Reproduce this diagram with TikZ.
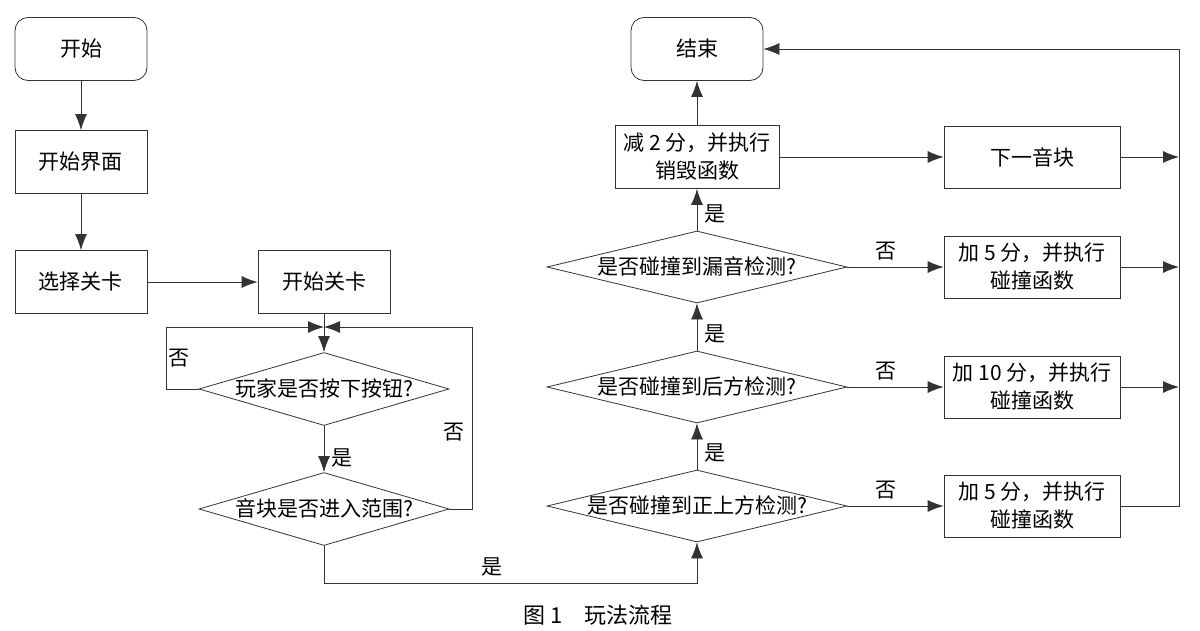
\documentclass[tikz,border=0pt]{standalone}
\usepackage{fontspec}
\setmainfont{Noto Sans CJK SC}
\usepackage{tikz}
\usetikzlibrary{shapes.geometric}
\usetikzlibrary{arrows.meta}
\pgfdeclarelayer{lines_layer}
\pgfdeclarelayer{boxes}
\pgfsetlayers{lines_layer,boxes,main}
\tikzstyle{none}=[inner sep=0pt]
\tikzstyle{terminal}=[draw=black!80,fill=white,rounded corners=6.5pt,font=\fontsize{10.5}{14}\selectfont,minimum width=66pt,minimum height=31.5pt]
\tikzstyle{process}=[draw=black!80,fill=white,align=center,font=\fontsize{10.5}{14}\selectfont,minimum width=66pt,minimum height=31.5pt]
\tikzstyle{decision}=[draw=black!80,fill=white,diamond,inner sep=0pt,text height=.8em,text depth=.1em,font=\fontsize{10.5}{14}\selectfont]
\tikzstyle{answer}=[font=\fontsize{10.5}{12}\selectfont]
\tikzstyle{line} = [draw=black!80,-{Latex[length=8pt,width=6pt]}]

\begin{document}
\begin{tikzpicture}[x=0.5pt,y=-0.5pt,line width=0.7pt]
		\useasboundingbox (0,0) rectangle (1200,631);
		\begin{pgfonlayer}{boxes}
			\node [style=terminal] (start) at (81,49) {开始};
			\node [style=process] (menu) at (81,162) {开始界面};
			\node [style=process] (select) at (81,282) {选择关卡};
			\node [style=process] (level) at (324,282) {开始关卡};
			\node [style=decision,aspect=3.5,minimum width=125pt,minimum height=36.5pt] (press) at (324,389) {玩家是否按下按钮?};
			\node [style=decision,aspect=3.5,minimum width=125pt,minimum height=36.5pt] (inrange) at (324,509) {音块是否进入范围?};
			\node [style=decision,aspect=4.2,minimum width=150pt,minimum height=36pt] (top) at (697,506) {是否碰撞到正上方检测?};
			\node [style=decision,aspect=4.2,minimum width=150pt,minimum height=36pt] (back) at (697,387) {是否碰撞到后方检测?};
			\node [style=decision,aspect=4.2,minimum width=150pt,minimum height=36pt] (miss) at (697,267) {是否碰撞到漏音检测?};
			\node [style=process,minimum width=82pt] (destroy) at (697,157) {减 2 分，并执行\\销毁函数};
			\node [style=terminal] (finish) at (697,49) {结束};
			\node [style=process,minimum width=88pt,minimum height=31pt] (next) at (1032,157) {下一音块};
			\node [style=process,minimum width=88pt,minimum height=31pt] (addfive) at (1032,267) {加 5 分，并执行\\碰撞函数};
			\node [style=process,minimum width=88pt,minimum height=31pt] (addten) at (1032,387) {加 10 分，并执行\\碰撞函数};
			\node [style=process,minimum width=88pt,minimum height=31pt] (addfiveb) at (1032,506) {加 5 分，并执行\\碰撞函数};
			\node [style=answer,font=\fontsize{11}{12}\selectfont] (caption) at (598,615) {图 1\quad 玩法流程};
		\end{pgfonlayer}
		\coordinate (join) at (324,327);
		\coordinate (loop_l) at (166,327);
		\coordinate (loop_r) at (472,327);
		\coordinate (low_l) at (324,583);
		\coordinate (low_r) at (697,583);
		\coordinate (rail_top) at (1179,49);
		\begin{pgfonlayer}{lines_layer}
			 \path [style=line] (start) -- (menu);
			 \path [style=line] (menu) -- (select);
			 \path [style=line] (select) -- (level);
			 \path [style=line] (level) -- (press);
			 \path [style=line] (press.west) -| node [style=answer,pos=.75,right,inner sep=1pt] {否} (loop_l) -- (join);
			 \path [style=line] (inrange.east) -| node [style=answer,pos=.71,left] {否} (loop_r) -- (join);
			 \path [style=line] (press) -- node [style=answer,pos=.7,right] {是} (inrange);
			 \path [style=line] (inrange.south) -- (low_l) -- node [style=answer,pos=.45,above] {是} (low_r) -- (top.south);
			 \path [style=line] (top) -- node [style=answer,pos=.35,right] {是} (back);
			 \path [style=line] (back) -- node [style=answer,pos=.35,right] {是} (miss);
			 \path [style=line] (miss) -- node [style=answer,pos=.4,right] {是} (destroy);
			 \path [style=line] (destroy) -- (finish);
			 \path [style=line] (destroy) -- (next);
			 \path [style=line] (miss) -- node [style=answer,pos=.4,above] {否} (addfive);
			 \path [style=line] (back) -- node [style=answer,pos=.4,above] {否} (addten);
			 \path [style=line] (top) -- node [style=answer,pos=.4,above] {否} (addfiveb);
			 \path [style=line] (next.east) -- (next -| rail_top);
			 \path [style=line] (addfive.east) -- (addfive -| rail_top);
			 \path [style=line] (addten.east) -- (addten -| rail_top);
			 \path [style=line] (addfiveb.east) -| (rail_top) -- (finish.east);
		\end{pgfonlayer}
\end{tikzpicture}
\end{document}
